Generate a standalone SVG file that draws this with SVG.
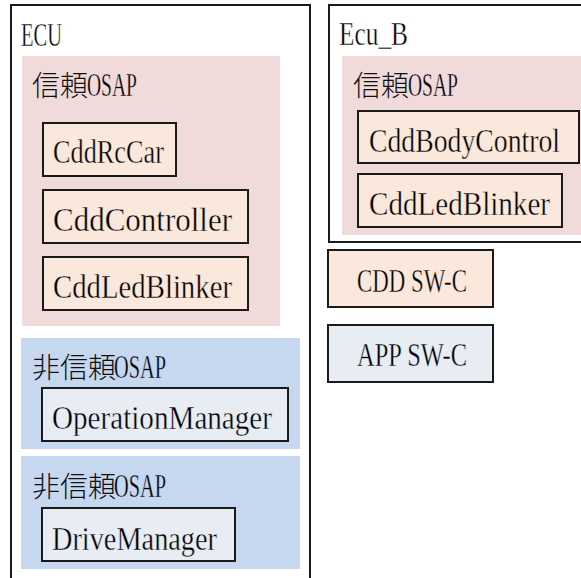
<svg xmlns="http://www.w3.org/2000/svg" width="581" height="578" viewBox="0 0 581 578">
<style>
.frame{fill:#fff;stroke:#1a1a1a;stroke-width:2}
.trusted{fill:#f0dada}
.untrusted{fill:#c5d8ef}
.cdd{fill:#fbe8dc;stroke:#1a1a1a;stroke-width:2}
.app{fill:#e8edf4;stroke:#1a1a1a;stroke-width:2}
.t{font-family:"Liberation Serif","Noto Sans CJK JP",serif;font-size:34px;fill:#000;stroke-width:0.4}
.k{font-family:"Noto Sans CJK JP","Noto Sans CJK SC",sans-serif;font-size:28px;fill:#111;font-weight:300}
.bw{stroke:#fff}
.bp{stroke:#f0dada}
.bb{stroke:#c5d8ef}
.bc{stroke:#fbe8dc}
.ba{stroke:#e8edf4}
</style>
<g id="ECU">
<rect class="frame" x="11" y="5" width="299" height="585"/>
<text class="t bw" x="21" y="46" textLength="41" lengthAdjust="spacingAndGlyphs">ECU</text>
</g>
<g id="ECU_trusted">
<rect class="trusted" x="22" y="56" width="258" height="270"/>
<text class="k" x="32" y="96">信頼</text>
<text class="t bp" x="87" y="96" textLength="50" lengthAdjust="spacingAndGlyphs">OSAP</text>
</g>
<g id="CddRcCar">
<rect class="cdd" x="43" y="123" width="133" height="53"/>
<text class="t bc" x="53" y="163" textLength="111" lengthAdjust="spacingAndGlyphs">CddRcCar</text>
</g>
<g id="CddController">
<rect class="cdd" x="43" y="190" width="205" height="53"/>
<text class="t bc" x="53" y="231" textLength="179" lengthAdjust="spacingAndGlyphs">CddController</text>
</g>
<g id="CddLedBlinker">
<rect class="cdd" x="43" y="257" width="205" height="53"/>
<text class="t bc" x="53" y="298" textLength="179" lengthAdjust="spacingAndGlyphs">CddLedBlinker</text>
</g>
<g id="ECU_untrusted1">
<rect class="untrusted" x="21" y="338" width="279" height="111"/>
<text class="k" x="32" y="378">非信頼</text>
<text class="t bb" x="114" y="378" textLength="52" lengthAdjust="spacingAndGlyphs">OSAP</text>
</g>
<g id="OperationManager">
<rect class="app" x="42" y="388" width="246" height="53"/>
<text class="t ba" x="52" y="429" textLength="220" lengthAdjust="spacingAndGlyphs">OperationManager</text>
</g>
<g id="ECU_untrusted2">
<rect class="untrusted" x="21" y="456" width="279" height="113"/>
<text class="k" x="32" y="497">非信頼</text>
<text class="t bb" x="114" y="497" textLength="52" lengthAdjust="spacingAndGlyphs">OSAP</text>
</g>
<g id="DriveManager">
<rect class="app" x="42" y="508" width="193" height="53"/>
<text class="t ba" x="52" y="550" textLength="165" lengthAdjust="spacingAndGlyphs">DriveManager</text>
</g>
<g id="Ecu_B">
<rect class="frame" x="329" y="5" width="262" height="237"/>
<text class="t bw" x="339" y="45" textLength="69" lengthAdjust="spacingAndGlyphs">Ecu_B</text>
</g>
<g id="EcuB_trusted">
<rect class="trusted" x="342" y="56" width="245" height="179"/>
<text class="k" x="353" y="96">信頼</text>
<text class="t bp" x="408" y="96" textLength="50" lengthAdjust="spacingAndGlyphs">OSAP</text>
</g>
<g id="CddBodyControl">
<rect class="cdd" x="358" y="111" width="221" height="52"/>
<text class="t bc" x="369" y="152" textLength="191" lengthAdjust="spacingAndGlyphs">CddBodyControl</text>
</g>
<g id="EcuB_CddLedBlinker">
<rect class="cdd" x="358" y="174" width="204" height="53"/>
<text class="t bc" x="369" y="215" textLength="181" lengthAdjust="spacingAndGlyphs">CddLedBlinker</text>
</g>
<g id="legend_CDD">
<rect class="cdd" x="328" y="250" width="165" height="57"/>
<text class="t bc" x="357" y="292" textLength="110" lengthAdjust="spacingAndGlyphs">CDD SW-C</text>
</g>
<g id="legend_APP">
<rect class="app" x="328" y="325" width="165" height="57"/>
<text class="t ba" x="357" y="366" textLength="110" lengthAdjust="spacingAndGlyphs">APP SW-C</text>
</g>
<g id="connectors"/>
</svg>
